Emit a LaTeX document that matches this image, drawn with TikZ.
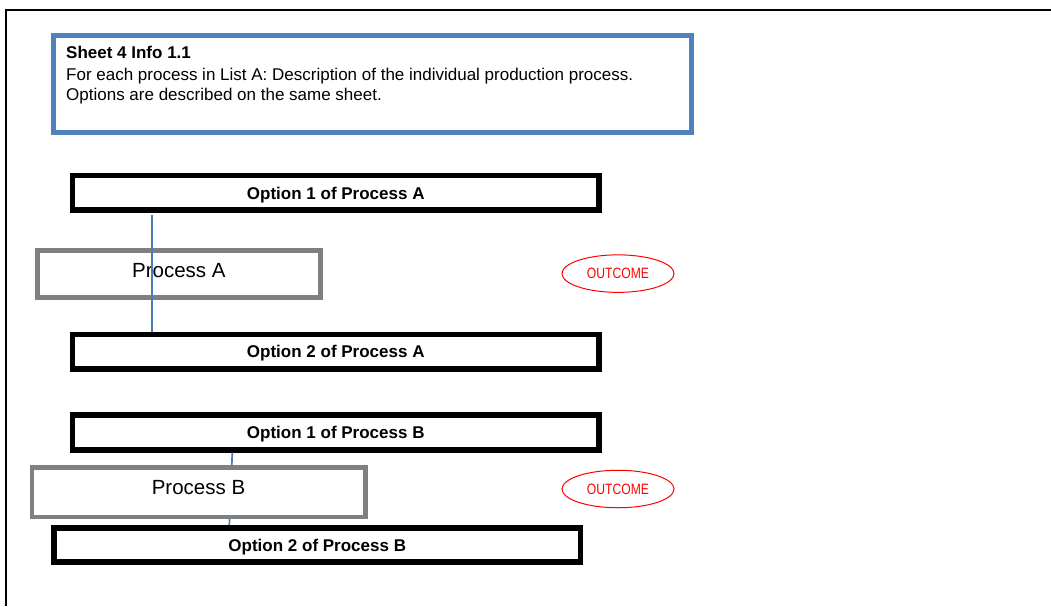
\documentclass[tikz,border=0pt]{standalone}
\usepackage{fontspec}
\setmainfont{Liberation Sans}
\newfontfamily\narrowfont{Liberation Sans}[FakeStretch=0.81]
\usetikzlibrary{shapes.geometric}
\definecolor{hdrblue}{HTML}{4F81BD}
\definecolor{linkblue}{HTML}{4A7EBB}
\definecolor{procgray}{HTML}{808080}
\begin{document}
\begin{tikzpicture}[x=1pt,y=-1pt,
  optbox/.style={draw=black, line width=5.6pt, fill=white, minimum width=526.5pt, minimum height=34.5pt, inner sep=0pt,
    font=\fontsize{17}{20}\selectfont\bfseries, text height=12.2pt, text depth=0pt},
  procbox/.style={draw=procgray, line width=4.6pt, fill=white, inner sep=0pt,
    font=\fontsize{20.5}{24}\selectfont, text height=14.7pt, text depth=9pt},
  outcome/.style={ellipse, draw=red, line width=1pt, minimum width=112pt, minimum height=37.5pt, inner sep=0pt,
    text=red, font=\narrowfont\fontsize{15}{18}\selectfont},
  link/.style={draw=linkblue, line width=1.7pt},
  hdrbox/.style={draw=hdrblue, line width=5pt, inner sep=0pt},
  hdrtext/.style={anchor=base west, inner sep=0pt, font=\fontsize{17}{20}\selectfont}]
\fill[white] (0,0) rectangle (1051,606);
\useasboundingbox (0,0) rectangle (1051,606);
% frame
\draw[line width=1.5pt] (6,606) -- (6,10) -- (1051,10);
% header
\node[hdrbox, minimum width=638pt, minimum height=96.2pt] (hdr) at (372,83.9) {};
\node[hdrtext, font=\fontsize{17}{20}\selectfont\bfseries] (h1) at (66,58.3) {Sheet 4 Info 1.1};
\node[hdrtext] (h2) at (66,80.7) {For each process in List A: Description of the individual production process.};
\node[hdrtext] (h3) at (66,100) {Options are described on the same sheet.};
% process A group
\node[optbox] (o1a) at (335.75,192.9) {Option 1 of Process A};
\node[optbox] (o2a) at (335.75,351.7) {Option 2 of Process A};
\node[procbox, minimum width=283.2pt, minimum height=47pt, text depth=8.6pt] (pa) at (178.9,274) {Process A};
\coordinate (ca) at (152,0);
\draw[link] ([yshift=-2pt]o1a.south -| ca) -- (o2a.north -| ca);
\node[outcome] (outa) at (618,273.6) {OUTCOME};
% process B group
\node[optbox] (o1b) at (335.75,432.5) {Option 1 of Process B};
\node[optbox] (o2b) at (317.25,545) {Option 2 of Process B};
\coordinate (cb1) at (232.3,0);
\coordinate (cb2) at (229.3,0);
\draw[link] (o1b.south -| cb1) -- (o2b.north -| cb2);
\node[procbox, minimum width=333.4pt, minimum height=49.5pt, text depth=11pt] (pb) at (198.5,492.2) {Process B};
\node[outcome] (outb) at (618,489) {OUTCOME};
\end{tikzpicture}
\end{document}
